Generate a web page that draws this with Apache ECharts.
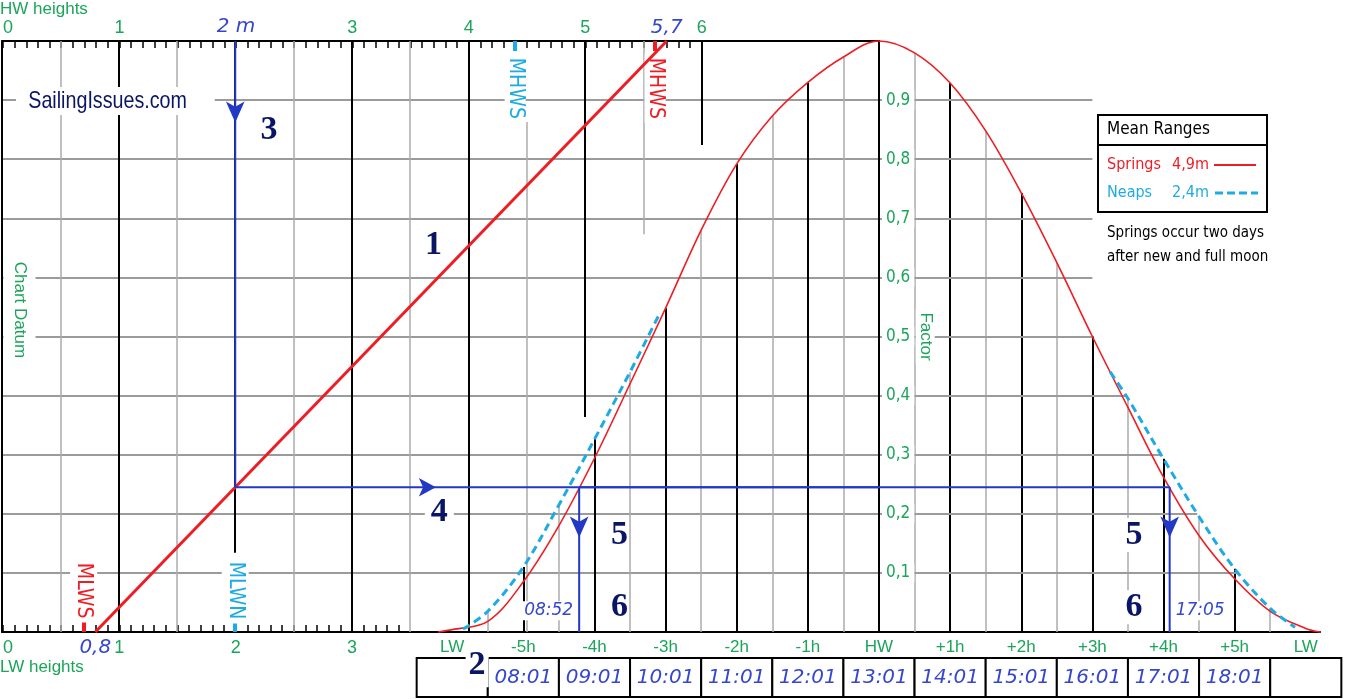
<!DOCTYPE html>
<html><head><meta charset="utf-8">
<script src="https://cdn.jsdelivr.net/npm/echarts@6/dist/echarts.min.js"></script>
<style>html,body{margin:0;padding:0;background:#fff}#c{width:1346px;height:699px}</style>
</head><body><div id="c"></div>
<script>
// ---------------- DATA ----------------
const heightAxisMax = 7.52;                       // metres reached at the HW line
const heightTickValues = [0, 1, 2, 3, 4, 5, 6];
const heightGridLines  = [0.5, 1, 1.5, 2, 2.5, 3, 3.5, 4, 4.5, 5, 5.5, 6];
const heightGridBottom = [0, 0, 0, 0.134, 0, 0, 0, 0, 0, 0.364, 0.673, 0.824];
const heightGridTop    = [1, 1, 1, 1, 1, 1, 1, 1, 0.863, 1, 1, 1];
const factorTicks = [0.1, 0.2, 0.3, 0.4, 0.5, 0.6, 0.7, 0.8, 0.9];
const timeHours  = [-6, -5, -4, -3, -2, -1, 0, 1, 2, 3, 4, 5, 6];
const timeLabels = ['LW', '-5h', '-4h', '-3h', '-2h', '-1h', 'HW', '+1h', '+2h', '+3h', '+4h', '+5h', 'LW'];
const clockTimes = ['', '08:01', '09:01', '10:01', '11:01', '12:01', '13:01', '14:01', '15:01', '16:01', '17:01', '18:01', ''];
const gridRightHour = 3;
const springHours  = [-6.2, -6, -5.5, -5, -4.5, -4, -3.5, -3, -2.5, -2, -1.5, -1, -0.5, 0, 0.5, 1, 1.5, 2, 2.5, 3, 3.5, 4, 4.5, 5, 5.5, 6, 6.2];
const springFactor = [0, 0.004, 0.018, 0.085, 0.18, 0.294, 0.42, 0.548, 0.68, 0.792, 0.873, 0.93, 0.973, 1, 0.98, 0.929, 0.848, 0.743, 0.625, 0.5, 0.38, 0.262, 0.163, 0.09, 0.035, 0.006, 0];
const neapRiseHours  = [-5.85, -5.5, -5, -4.5, -4, -3.5, -3.1];
const neapRiseFactor = [0.005, 0.035, 0.11, 0.215, 0.326, 0.44, 0.535];
const neapFallHours  = [3.25, 3.5, 4, 4.5, 5, 5.5, 5.85];
const neapFallFactor = [0.44, 0.395, 0.293, 0.195, 0.107, 0.04, 0.008];
const rangeLW = 0.8, rangeHW = 5.7;               // red construction line
const levelNames   = ['MLWS', 'MLWN', 'MHWS', 'MHWS'];
const levelHeights = [0.7, 2.0, 4.4, 5.6];
const levelSpring  = [true, false, false, true];
const levelAtHW    = [false, false, true, true];
const exampleHeight = 2;
const exampleTimes  = ['08:52', '17:05'];
const legendRows = [['Springs', '4,9m'], ['Neaps', '2,4m']];

// ---------------- HELPERS ----------------
function interp(xs, ys, x) {
  for (let i = 0; i < xs.length - 1; i++) {
    if (x >= xs[i] && x <= xs[i + 1]) {
      const k = (x - xs[i]) / (xs[i + 1] - xs[i]);
      return ys[i] + k * (ys[i + 1] - ys[i]);
    }
  }
  return null;
}
function cross(xs, ys, f, lo, hi) {
  for (let i = 0; i < xs.length - 1; i++) {
    if (xs[i] < lo || xs[i + 1] > hi) continue;
    const a = ys[i] - f, b = ys[i + 1] - f;
    if (a === 0) return xs[i];
    if (a * b < 0 || b === 0) return xs[i] + (xs[i + 1] - xs[i]) * (f - ys[i]) / (ys[i + 1] - ys[i]);
  }
  return null;
}
const C = {green: '#1BA55B', red: '#EE1D23', cyan: '#1EABE3', blue: '#2338C4', hand: '#3546CF', navy: '#0A1565', grey: '#9B9B9B', lgrey: '#ABABAB'};
const FN = '"Liberation Sans Narrow","DejaVu Sans Condensed",sans-serif';
const FS = '"Liberation Sans",Arial,sans-serif';
const FH = '"DejaVu Sans",sans-serif';
const FSERIF = '"Liberation Serif","DejaVu Serif",serif';
const comma = v => String(v).replace('.', ',');

const fEx = (exampleHeight - rangeLW) / (rangeHW - rangeLW);
const tRise = cross(springHours, springFactor, fEx, -6.2, 0);
const tFall = cross(springHours, springFactor, fEx, 0, 6.2);

const timeGrid = springHours.filter(t => Math.abs(t) <= 5.5 && t !== 0);
const timeLineData = timeGrid.map(t => {
  const top = Math.max(interp(springHours, springFactor, t) || 0,
                       interp(neapRiseHours, neapRiseFactor, t) || 0,
                       interp(neapFallHours, neapFallFactor, t) || 0);
  const isHour = Number.isInteger(t);
  return {coords: [[t, 0], [t, top]], lineStyle: {color: isHour ? '#000' : C.lgrey, width: isHour ? 2 : 1.5, opacity: 1}};
});
const rightGridData = factorTicks.map(f => {
  const end = Math.max(gridRightHour, cross(springHours, springFactor, f, 0, 6.2) || 0,
                       cross(neapFallHours, neapFallFactor, f, 0, 6.2) || 0);
  return {coords: [[0, f], [end, f]]};
});
const heightLineData = heightGridLines.map((h, i) => {
  const isInt = Number.isInteger(h);
  return {coords: [[h, heightGridBottom[i]], [h, heightGridTop[i]]], lineStyle: {color: isInt ? '#000' : C.lgrey, width: isInt ? 2 : 1.5, opacity: 1}};
});
const levelTickData = levelHeights.map((h, i) => ({
  coords: [[h, levelAtHW[i] ? 1 : 0], [h, levelAtHW[i] ? 0.983 : 0.017]],
  lineStyle: {color: levelSpring[i] ? C.red : C.cyan, width: 4, opacity: 1}
}));

const numStyle = (bg) => ({show: true, position: 'inside', color: C.navy, fontFamily: FSERIF, fontWeight: 'bold', fontSize: 34,
  backgroundColor: bg ? '#fff' : 'transparent', padding: bg ? [0, 2] : 0});
const handStyle = {color: C.hand, fontFamily: FH, fontStyle: 'italic', fontSize: 17};

const heightLabels = [
  {value: [2.29, 0.849], label: Object.assign(numStyle(false), {formatter: '3'})},
  {value: [3.7, 0.655], label: Object.assign(numStyle(false), {formatter: '1'})},
  {value: [3.75, 0.203], label: Object.assign(numStyle(true), {formatter: '4', padding: [0, 6]})},
  {value: [0.15, 0.545], label: {show: true, position: 'inside', rotate: -90, formatter: 'Chart Datum', color: C.green, fontFamily: FS, fontSize: 17, backgroundColor: '#fff', padding: [0, 4, 0, 4], lineHeight: 32}},
  {value: [rangeHW, 1], label: Object.assign({show: true, position: 'top', distance: 3, formatter: comma(rangeHW)}, handStyle, {fontSize: 20})},
  {value: [rangeLW, 0], label: Object.assign({show: true, position: 'bottom', distance: 6, formatter: comma(rangeLW)}, handStyle, {fontSize: 20})}
].concat(levelHeights.map((h, i) => ({
  value: [h, levelAtHW[i] ? 0.92 : 0.07],
  label: {show: true, position: 'inside', rotate: -90, formatter: levelNames[i], color: levelSpring[i] ? C.red : C.cyan,
    fontFamily: FN, fontSize: 21, backgroundColor: '#fff', padding: levelAtHW[i] ? [0, 4] : [3, 4]}
})));

const timeAnn = [
  {value: [0.65, 0.5], label: {show: true, position: 'inside', rotate: -90, formatter: 'Factor', color: C.green, fontFamily: FS, fontSize: 17, backgroundColor: '#fff', padding: [0, 3], lineHeight: 19}},
  {value: [-3.65, 0.164], label: Object.assign(numStyle(false), {formatter: '5'})},
  {value: [-3.65, 0.042], label: Object.assign(numStyle(false), {formatter: '6'})},
  {value: [3.585, 0.164], label: Object.assign(numStyle(true), {formatter: '5'})},
  {value: [3.585, 0.042], label: Object.assign(numStyle(true), {formatter: '6'})},
  {value: [-5.65, -0.057], label: Object.assign(numStyle(true), {formatter: '2', padding: [3, 3, 6, 3]})},
  {value: [tRise, 0.036], label: Object.assign({show: true, position: 'left', distance: 4, formatter: exampleTimes[0], backgroundColor: '#fff', padding: [1, 2]}, handStyle)},
  {value: [tFall, 0.036], label: Object.assign({show: true, position: 'right', distance: 4, formatter: exampleTimes[1], backgroundColor: '#fff', padding: [1, 2]}, handStyle)}
];

const intFmt = (bigAt) => v => {
  if (Math.abs(v - Math.round(v)) > 1e-6) return '';
  const n = Math.round(v);
  return n === bigAt ? '{b|' + n + ' m}' : '{g|' + n + '}';
};
const tickRich = {
  g: {color: C.green, fontFamily: FS, fontSize: 18},
  b: {color: C.hand, fontFamily: FH, fontStyle: 'italic', fontSize: 20}
};
const noLine = {show: false};
const solid = {opacity: 1};
const legendText = (txt, x, y, color, size) => ({type: 'text', z: 101, x: x, y: y,
  style: {text: txt, fill: color, fontFamily: FN, fontSize: size, align: 'left', verticalAlign: 'middle', textVerticalAlign: 'middle'}});

const chart = echarts.init(document.getElementById('c'));
chart.setOption({
  animation: false,
  backgroundColor: '#fff',
  grid: [
    {left: 2, top: 41, width: 877, height: 591},
    {left: 438, top: 41, width: 882, height: 591},
    {left: 2, top: 41, width: 877 * 6 / heightAxisMax, height: 591},
    {left: 2, top: 41, width: 877 * 3.4 / heightAxisMax, height: 591},
    {left: 879, top: 41, width: 100, height: 591}
  ],
  xAxis: [
    {gridIndex: 0, type: 'value', min: 0, max: heightAxisMax, position: 'bottom', axisLine: {show: true, onZero: false, lineStyle: {color: '#000', width: 2}}, axisTick: noLine, axisLabel: noLine, splitLine: noLine},
    {gridIndex: 0, type: 'value', min: 0, max: heightAxisMax, position: 'top', axisLine: {show: true, onZero: false, lineStyle: {color: '#000', width: 2}}, axisTick: noLine, axisLabel: noLine, splitLine: noLine},
    {gridIndex: 1, type: 'value', min: -6.2, max: 6.2, position: 'bottom', axisLine: {show: true, onZero: false, lineStyle: {color: '#000', width: 2}}, axisTick: noLine, splitLine: noLine,
      axisLabel: {customValues: timeHours, formatter: v => timeLabels[timeHours.indexOf(Math.round(v))], color: C.green, fontFamily: FS, fontSize: 17, margin: 7}},
    {gridIndex: 2, type: 'value', min: 0, max: 6, interval: 0.1, position: 'top', axisLine: {show: false, onZero: false}, splitLine: noLine,
      axisTick: {show: true, inside: true, length: 7, lineStyle: {color: '#000', width: 1.5}},
      axisLabel: {formatter: intFmt(exampleHeight), rich: tickRich, margin: 4, alignMinLabel: 'left'}},
    {gridIndex: 3, type: 'value', min: 0, max: 3.4, interval: 0.1, position: 'bottom', axisLine: {show: false, onZero: false}, splitLine: noLine,
      axisTick: {show: true, inside: true, length: 7, lineStyle: {color: '#000', width: 1.5}},
      axisLabel: {formatter: intFmt(null), rich: tickRich, margin: 7, alignMinLabel: 'left'}},
    {gridIndex: 4, type: 'value', min: 0, max: 1, show: false}
  ],
  yAxis: [
    {gridIndex: 0, type: 'value', min: 0, max: 1, interval: 0.1, axisLine: {show: true, onZero: false, lineStyle: {color: '#000', width: 2}}, axisTick: noLine, axisLabel: noLine,
      splitLine: {show: true, showMinLine: false, showMaxLine: false, lineStyle: {color: C.grey, width: 2}}},
    {gridIndex: 1, type: 'value', min: 0, max: 1, show: false},
    {gridIndex: 2, type: 'value', min: 0, max: 1, show: false},
    {gridIndex: 3, type: 'value', min: 0, max: 1, show: false},
    {gridIndex: 4, type: 'value', min: 0, max: 1, interval: 0.1, z: 3, position: 'left', axisLine: {show: true, onZero: false, lineStyle: {color: '#000', width: 2}}, axisTick: noLine, splitLine: noLine,
      axisLabel: {inside: true, customValues: factorTicks, formatter: v => comma(v.toFixed(1)), color: C.green, fontFamily: FN, fontSize: 17, backgroundColor: '#fff', padding: [1, 4], margin: 3}}
  ],
  series: [
    {type: 'lines', coordinateSystem: 'cartesian2d', xAxisIndex: 0, yAxisIndex: 0, z: 1, silent: true, lineStyle: solid, data: heightLineData},
    {type: 'lines', coordinateSystem: 'cartesian2d', xAxisIndex: 2, yAxisIndex: 1, z: 1, silent: true, lineStyle: solid, data: timeLineData},
    {type: 'lines', coordinateSystem: 'cartesian2d', xAxisIndex: 2, yAxisIndex: 1, z: 1, silent: true, lineStyle: {color: C.grey, width: 2, opacity: 1}, data: rightGridData},
    {type: 'lines', coordinateSystem: 'cartesian2d', xAxisIndex: 0, yAxisIndex: 0, z: 3, silent: true, lineStyle: solid, data: levelTickData},
    {type: 'line', name: 'Springs', xAxisIndex: 2, yAxisIndex: 1, z: 7, smooth: 0.35, symbol: 'none', clip: false,
      lineStyle: {color: C.red, width: 1.6}, data: springHours.map((t, i) => [t, springFactor[i]])},
    {type: 'line', name: 'Neaps', xAxisIndex: 2, yAxisIndex: 1, z: 7, smooth: 0.35, symbol: 'none', clip: false,
      lineStyle: {color: C.cyan, width: 3, type: [8, 5]}, data: neapRiseHours.map((t, i) => [t, neapRiseFactor[i]])},
    {type: 'line', name: 'Neaps', xAxisIndex: 2, yAxisIndex: 1, z: 7, smooth: 0.35, symbol: 'none', clip: false,
      lineStyle: {color: C.cyan, width: 3, type: [8, 5]}, data: neapFallHours.map((t, i) => [t, neapFallFactor[i]])},
    {type: 'line', xAxisIndex: 0, yAxisIndex: 0, z: 7, symbol: 'none', lineStyle: {color: C.red, width: 3}, data: [[rangeLW, 0], [rangeHW, 1]]},
    {type: 'line', xAxisIndex: 0, yAxisIndex: 0, z: 8, symbol: 'none', lineStyle: {color: C.blue, width: 2},
      data: [[exampleHeight, 1], [exampleHeight, fEx], [heightAxisMax, fEx]]},
    {type: 'line', xAxisIndex: 2, yAxisIndex: 1, z: 8, symbol: 'none', lineStyle: {color: C.blue, width: 2},
      data: [[tRise, 0], [tRise, fEx], [tFall, fEx], [tFall, 0]]},
    {type: 'scatter', xAxisIndex: 0, yAxisIndex: 0, z: 9, symbol: 'arrow', symbolSize: [14, 21], itemStyle: {color: C.blue, opacity: 1},
      data: [{value: [exampleHeight, 0.862], symbolRotate: 180}, {value: [3.72, fEx], symbolRotate: -90, symbolSize: [14, 17]}]},
    {type: 'scatter', xAxisIndex: 2, yAxisIndex: 1, z: 9, symbol: 'arrow', symbolSize: [14, 21], itemStyle: {color: C.blue, opacity: 1},
      data: [{value: [tRise, 0.16], symbolRotate: 180}, {value: [tFall, 0.16], symbolRotate: 180}]},
    {type: 'scatter', xAxisIndex: 0, yAxisIndex: 0, z: 6, symbolSize: 0, clip: false, silent: true, itemStyle: {opacity: 1}, data: heightLabels},
    {type: 'scatter', xAxisIndex: 2, yAxisIndex: 1, z: 6, symbolSize: 0, clip: false, silent: true, itemStyle: {opacity: 1}, data: timeAnn},
    {type: 'custom', xAxisIndex: 2, yAxisIndex: 1, z: 5, clip: false, silent: true,
      data: timeHours.map((t, i) => [t, i]),
      renderItem: (params, api) => {
        const t = api.value(0);
        const x0 = api.coord([t - 0.5, 0])[0], x1 = api.coord([t + 0.5, 0])[0];
        const y0 = api.coord([t, 0])[1] + 26, h = 39;
        return {type: 'group', children: [
          {type: 'rect', shape: {x: x0, y: y0, width: x1 - x0, height: h}, style: {fill: '#fff', stroke: '#000', lineWidth: 2}},
          {type: 'text', x: (x0 + x1) / 2, y: y0 + h / 2, style: {text: clockTimes[api.value(1)], fill: C.hand,
            fontFamily: FH, fontStyle: 'italic', fontSize: 20, align: 'center', verticalAlign: 'middle', textAlign: 'center', textVerticalAlign: 'middle'}}
        ]};
      }}
  ],
  graphic: [
    {type: 'text', x: 0, y: 9, z: 100, style: {text: 'HW heights', fill: C.green, fontFamily: FS, fontSize: 17, align: 'left', verticalAlign: 'middle', textVerticalAlign: 'middle'}},
    {type: 'text', x: 0, y: 667, z: 100, style: {text: 'LW heights', fill: C.green, fontFamily: FS, fontSize: 17, align: 'left', verticalAlign: 'middle', textVerticalAlign: 'middle'}},
    {type: 'text', x: 16, y: 101, z: 5, scaleX: 0.82, originX: 0, originY: 0, style: {text: 'SailingIssues.com', fill: C.navy, fontFamily: FS, fontSize: 24, align: 'left', verticalAlign: 'middle', textVerticalAlign: 'middle',
      backgroundColor: '#fff', padding: [2, 34, 2, 15]}},
    {type: 'group', z: 100, children: [
      {type: 'rect', z: 100, shape: {x: 1098, y: 115, width: 169, height: 97}, style: {fill: '#fff', stroke: '#000', lineWidth: 2}},
      {type: 'line', z: 101, shape: {x1: 1098, y1: 145, x2: 1267, y2: 145}, style: {stroke: '#000', lineWidth: 2}},
      legendText('Mean Ranges', 1107, 130, '#000', 17),
      legendText(legendRows[0][0], 1107, 165, C.red, 16),
      legendText(legendRows[0][1], 1172, 165, C.red, 16),
      {type: 'line', z: 101, shape: {x1: 1214, y1: 165, x2: 1256, y2: 165}, style: {stroke: C.red, lineWidth: 2}},
      legendText(legendRows[1][0], 1107, 193, C.cyan, 16),
      legendText(legendRows[1][1], 1172, 193, C.cyan, 16),
      {type: 'line', z: 101, shape: {x1: 1215, y1: 193, x2: 1258, y2: 193}, style: {stroke: C.cyan, lineWidth: 3, lineDash: [8, 4]}},
      legendText('Springs occur two days', 1107, 233, '#000', 15),
      legendText('after new and full moon', 1107, 257, '#000', 15)
    ]}
  ]
});
</script>
</body></html>
